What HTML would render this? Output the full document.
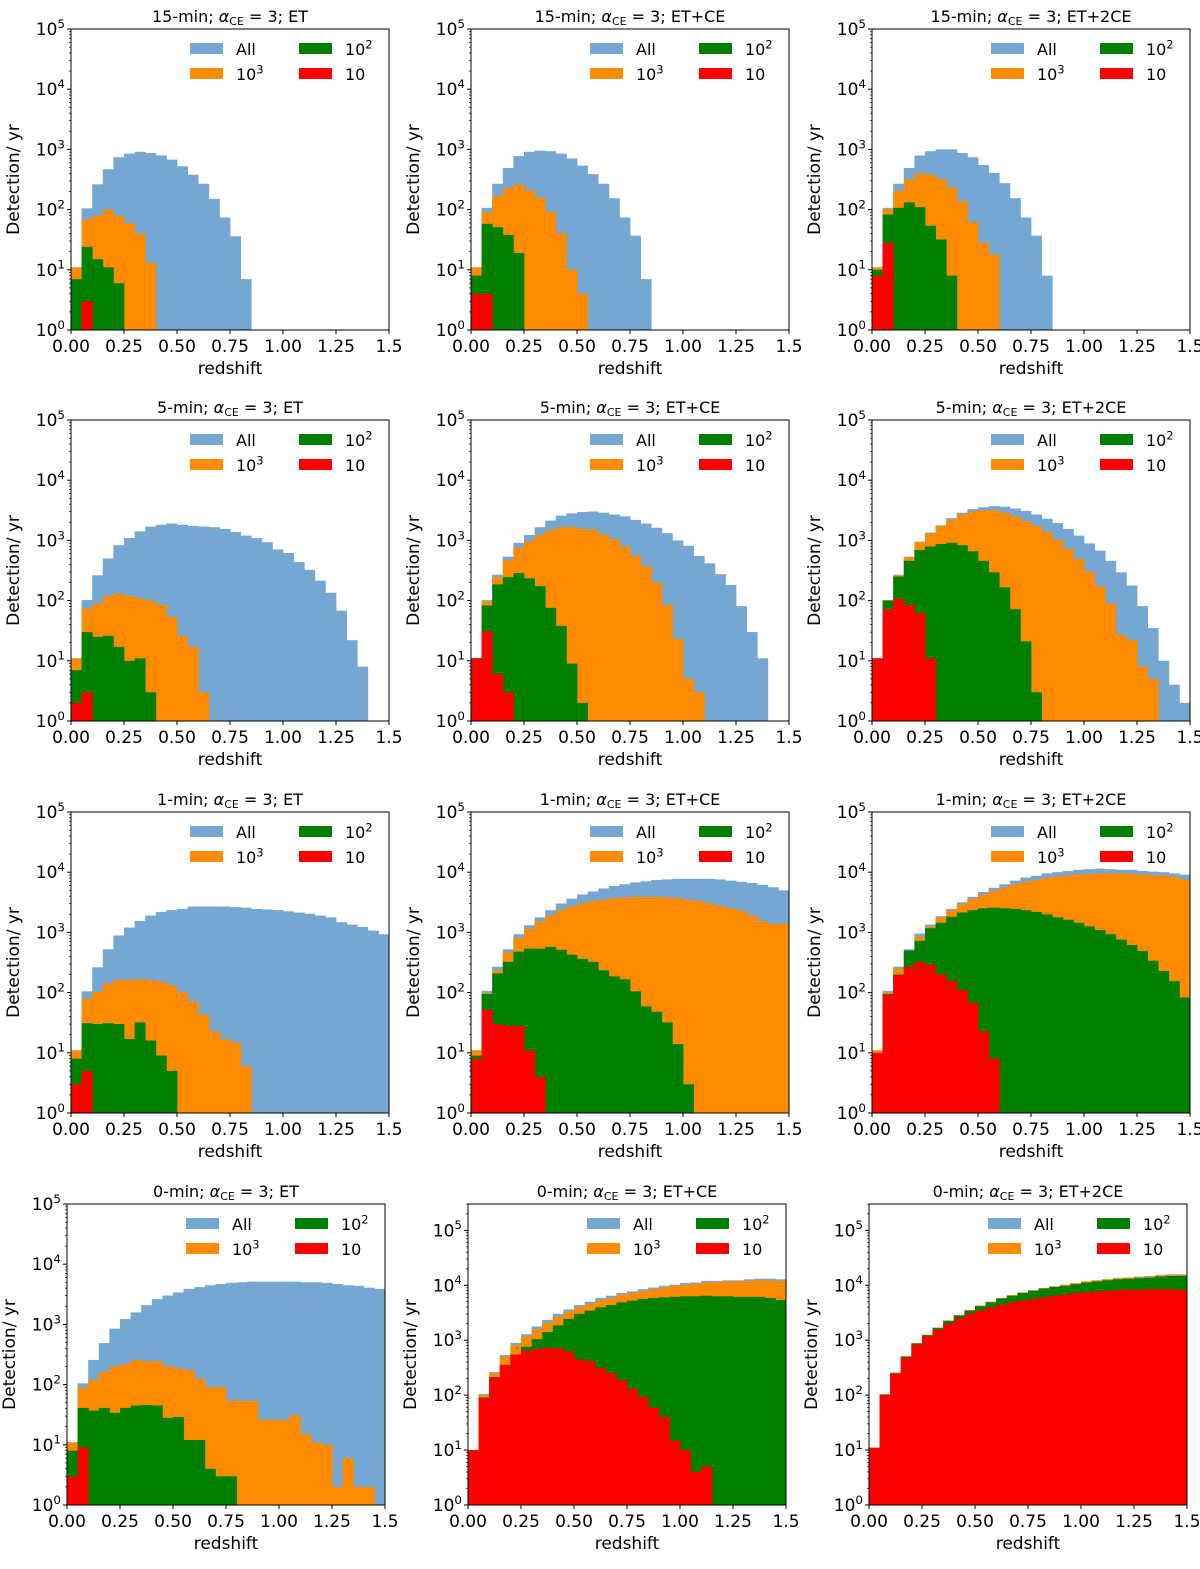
<!DOCTYPE html>
<html><head><meta charset="utf-8"><style>
html,body{margin:0;padding:0;background:#fff;}
svg text{font-family:"DejaVu Sans","Liberation Sans",sans-serif;fill:#000;}
</style></head><body>
<svg id="fig" width="1200" height="1564" viewBox="0 0 1200 1564" xmlns="http://www.w3.org/2000/svg"></svg>
<script>
// ---- data (Detection/yr per redshift bin of width 0.05) ----
const binWidth = 0.05;
const xTickValues = [0, 0.25, 0.5, 0.75, 1.0, 1.25, 1.5];
const xTickLabels = ["0.00","0.25","0.50","0.75","1.00","1.25","1.5"];
const yTickExponents = [0,1,2,3,4,5];
const legendLabels = ["All","10^3","10^2","10"];

const p1All=[11,105,263,468,741,851,912,871,794,676,525,380,269,151,74,36,7];
const p1K=[11,68,79,100,79,59,40,13];
const p1H=[7,24,15,11,6];
const p1T=[0,3];

const p2All=[11,107,269,490,776,912,955,933,851,708,537,389,269,155,74,37,7];
const p2K=[11,91,170,229,263,209,158,91,41,10,4];
const p2H=[8,58,51,38,19];
const p2T=[4,4];

const p3All=[11,107,269,490,794,933,1000,1000,871,741,550,407,275,155,74,37,8];
const p3K=[11,102,204,316,398,380,324,234,138,62,28,18];
const p3H=[10,83,107,132,110,54,32,8];
const p3T=[8,28];

const p4All=[11,102,263,501,832,1096,1413,1698,1820,1905,1820,1738,1698,1660,1549,1380,1202,1096,933,708,617,437,324,214,135,68,22,8];
const p4K=[11,74,89,120,132,120,110,100,85,54,26,17,3];
const p4H=[7,30,25,26,17,10,11,3];
const p4T=[2,3];

const p5All=[11,102,269,537,912,1230,1660,2138,2570,2818,2951,3020,2884,2692,2512,2188,1905,1622,1318,1000,813,550,417,275,182,81,30,11];
const p5K=[11,98,245,468,759,977,1230,1479,1660,1660,1549,1514,1259,1047,794,562,372,200,85,23,5,3];
const p5H=[11,83,186,245,288,234,174,76,38,9,2];
const p5T=[11,31,6,3];

const p6All=[11,102,269,537,955,1349,1778,2344,2884,3311,3548,3715,3631,3388,3090,2692,2291,1950,1549,1202,891,676,457,295,178,81,35,10,4,2];
const p6K=[11,102,263,525,933,1288,1738,2188,2692,3020,3162,3162,2884,2512,2089,1738,1380,1023,724,490,302,174,89,27,22,8,5];
const p6H=[10,100,251,457,692,794,871,912,832,661,457,295,166,72,21,3];
const p6T=[11,72,107,85,62,11];

const p7All=[11,105,263,525,891,1202,1549,1905,2188,2344,2455,2692,2692,2692,2692,2630,2570,2455,2399,2344,2239,2138,2042,1905,1778,1479,1349,1230,1072,933];
const p7K=[11,79,102,141,162,162,166,162,151,132,100,71,43,23,17,15,6];
const p7H=[8,31,30,31,30,17,32,16,9,5];
const p7T=[3,5];

const p8All=[11,107,269,525,933,1318,1778,2344,3020,3631,4266,4786,5370,5888,6310,6761,7079,7413,7586,7762,7762,7762,7762,7586,7244,6918,6607,6166,5623,5012];
const p8K=[11,98,234,468,813,1148,1514,1905,2344,2692,3020,3311,3467,3715,3802,3890,3890,3890,3802,3715,3467,3311,3020,2754,2512,2291,1905,1549,1380,1380];
const p8H=[9,95,209,324,479,537,537,575,513,427,363,324,234,186,166,105,59,48,32,14,3];
const p8T=[8,52,30,28,28,11,4];

const p9All=[11,107,269,525,955,1349,1862,2455,3162,3890,4677,5495,6310,7244,8128,8710,9550,10000,10471,10965,11220,11482,11220,10965,10965,10471,10233,10000,9550,9120];
const p9K=[11,100,251,479,851,1259,1778,2344,2951,3631,4266,4898,5623,6310,6918,7413,8128,8511,8913,9120,9333,9550,9550,9550,9333,9120,8913,8710,8318,7586];
const p9H=[9,95,200,501,724,1175,1445,1820,2138,2344,2512,2570,2512,2455,2344,2188,1995,1778,1622,1445,1259,1096,933,759,617,490,339,229,155,83];
const p9T=[10,93,195,269,324,288,200,155,110,68,23,8];

const p10All=[11,105,257,490,851,1230,1585,2089,2630,3020,3388,3890,4169,4467,4677,4898,5012,5129,5129,5129,5129,5129,5012,5012,4898,4677,4467,4365,4074,3890];
const p10K=[11,89,120,162,200,219,257,245,245,204,186,174,126,91,91,54,54,54,26,26,26,31,15,11,10,2,6,2,2];
const p10H=[8,41,37,41,34,41,45,46,45,28,29,12,12,4,3,3];
const p10T=[3,9];

const p11All=[10,105,263,537,891,1288,1778,2344,3020,3631,4365,5012,5888,6457,7244,7762,8511,9120,9772,10233,10965,11220,12023,12023,12303,12303,12882,13183,13183,12882];
const p11K=[10,100,251,501,813,1175,1585,2089,2692,3311,3981,4571,5370,5888,6761,7244,7943,8511,9120,9772,10233,10715,11220,11482,11749,12023,12023,12303,12303,12023];
const p11H=[10,91,214,355,513,759,1047,1413,1862,2455,3020,3467,3981,4365,4898,5248,5623,5888,6026,6166,6310,6310,6457,6310,6310,6166,6166,6166,5888,5370];
const p11T=[10,89,209,355,550,646,692,724,708,631,447,417,309,251,186,132,93,59,40,15,10,4,5];

const p12All=[11,105,257,513,891,1259,1698,2291,2884,3548,4266,5012,5888,6607,7413,8128,8913,9550,10233,10965,11749,12303,12882,13490,13804,14454,14791,15488,15849,15849];
const p12K=[11,105,257,513,891,1259,1698,2291,2884,3548,4266,5012,5888,6607,7413,8128,8913,9550,10233,10965,11749,12303,12882,13490,13804,14125,14454,15136,15488,15488];
const p12H=[11,102,251,501,871,1230,1660,2239,2818,3467,4169,4898,5754,6457,7244,7943,8710,9333,9772,10471,11220,11749,12303,12882,13183,13490,13804,14454,14791,14791];
const p12T=[11,100,245,479,832,1175,1549,1995,2512,3020,3467,3981,4365,4898,5248,5623,6026,6457,6761,7244,7413,7762,7943,8128,8318,8318,8511,8511,8511,8318];

const prefixes=["15-min","15-min","15-min","5-min","5-min","5-min","1-min","1-min","1-min","0-min","0-min","0-min"];
const detectors=["ET","ET+CE","ET+2CE","ET","ET+CE","ET+2CE","ET","ET+CE","ET+2CE","ET","ET+CE","ET+2CE"];
const yMaxLog=[5,5,5,5,5,5,5,5,5,5,5.48,5.48];
const seriesAll=[p1All,p2All,p3All,p4All,p5All,p6All,p7All,p8All,p9All,p10All,p11All,p12All];
const seriesK=[p1K,p2K,p3K,p4K,p5K,p6K,p7K,p8K,p9K,p10K,p11K,p12K];
const seriesH=[p1H,p2H,p3H,p4H,p5H,p6H,p7H,p8H,p9H,p10H,p11H,p12H];
const seriesT=[p1T,p2T,p3T,p4T,p5T,p6T,p7T,p8T,p9T,p10T,p11T,p12T];

// ---- drawing ----
const NS="http://www.w3.org/2000/svg";
const svg=document.getElementById('fig');
const colors=["#75a7d3","#ff8c00","#008000","#ff0000"];
const rowTops=[29,420,812,1204];
const colLeftsA=[71,471,872];
const colLeftsB=[67,468,869];
const W=318, H=301, XMAX=1.5;

function mk(tag,attrs,parent){const e=document.createElementNS(NS,tag);for(const k in attrs)e.setAttribute(k,attrs[k]);(parent||svg).appendChild(e);return e;}
function supText(parent,x,y,base,sup,anchor,size){
  const t=mk('text',{x:x,y:y,'font-size':size,'text-anchor':anchor},parent);
  t.appendChild(document.createTextNode(base));
  if(sup){const s=mk('tspan',{dy:-size*0.42,'font-size':size*0.7},t);s.textContent=sup;}
  return t;
}

for(let p=0;p<12;p++){
  const r=Math.floor(p/3), c=p%3;
  const L=(r===3?colLeftsB:colLeftsA)[c], T=rowTops[r], B=T+H;
  const ml=yMaxLog[p];
  const xs=v=>L+v/XMAX*W;
  const ys=v=>B-Math.log10(Math.max(v,1))/ml*H;
  const g=mk('g',{});
  
  
  const clipId='clip'+p;
  const cp=mk('clipPath',{id:clipId},g); mk('rect',{x:L,y:T,width:W,height:H},cp);
  const bars=mk('g',{'clip-path':'url(#'+clipId+')'},g);
  
  
  const sets=[seriesAll[p],seriesK[p],seriesH[p],seriesT[p]];
  const sname=['all','snr-1e3','snr-1e2','snr-10'];
  sets.forEach((arr,si)=>{
    arr.forEach((v,i)=>{
      if(v<=1) return;
      const x0=xs(i*binWidth), x1=xs((i+1)*binWidth), y=ys(v);
      const rc=mk('rect',{x:x0,y:y,width:x1-x0+0.4,height:B-y,fill:colors[si]},bars);
      
      
    });
  });
  const fr=mk('rect',{x:L,y:T,width:W,height:H,fill:'none',stroke:'#000','stroke-width':1},g);
  
  
  xTickValues.forEach((v,i)=>{
    const x=xs(v);
    mk('line',{x1:x,y1:B,x2:x,y2:B+4,stroke:'#000','stroke-width':1},g);
    const t=mk('text',{x:x,y:B+22,'font-size':17,'text-anchor':'middle'},g);
    t.textContent=xTickLabels[i];
    
    
  });
  for(let d=0; d<Math.ceil(ml); d++){
    for(let m=2;m<=9;m++){
      const lv=d+Math.log10(m); if(lv>ml) break;
      const y=B-lv/ml*H;
      mk('line',{x1:L-2,y1:y,x2:L,y2:y,stroke:'#000','stroke-width':0.7},g);
    }
  }
  yTickExponents.forEach(e=>{
    if(e>ml) return;
    const y=B-e/ml*H;
    mk('line',{x1:L-4,y1:y,x2:L,y2:y,stroke:'#000','stroke-width':1},g);
    const t=supText(g,L-6,y+6,'10',String(e),'end',17);
    
    
  });
  const xl=mk('text',{x:L+W/2,y:B+44,'font-size':17,'text-anchor':'middle'},g);
  xl.textContent='redshift';
  
  
  const yx=L-52, yy=T+H/2;
  const yl=mk('text',{x:yx,y:yy,'font-size':17,'text-anchor':'middle',transform:'rotate(-90 '+yx+' '+yy+')'},g);
  yl.textContent='Detection/ yr';
  
  
  const tt=mk('text',{x:L+W/2,y:T-7,'font-size':16,'text-anchor':'middle'},g);
  
  
  tt.appendChild(document.createTextNode(prefixes[p]+'; '));
  const a=mk('tspan',{'font-style':'italic'},tt); a.textContent='α';
  const sb=mk('tspan',{dy:3,'font-size':11},tt); sb.textContent='CE';
  const rest=mk('tspan',{dy:-3},tt); rest.textContent=' = 3; '+detectors[p];
  const lg=mk('g',{},g);
  
  
  const pos=[[119,14],[119,39],[228,14],[228,39]];
  legendLabels.forEach((lab,i)=>{
    const px=L+pos[i][0], py=T+pos[i][1];
    const item=mk('g',{},lg);
    
    
    mk('rect',{x:px,y:py,width:33,height:11,fill:colors[i]},item);
    const parts=lab.split('^');
    supText(item,px+46,py+12,parts[0],parts[1]||'','start',16);
  });
}
</script>
</body></html>
